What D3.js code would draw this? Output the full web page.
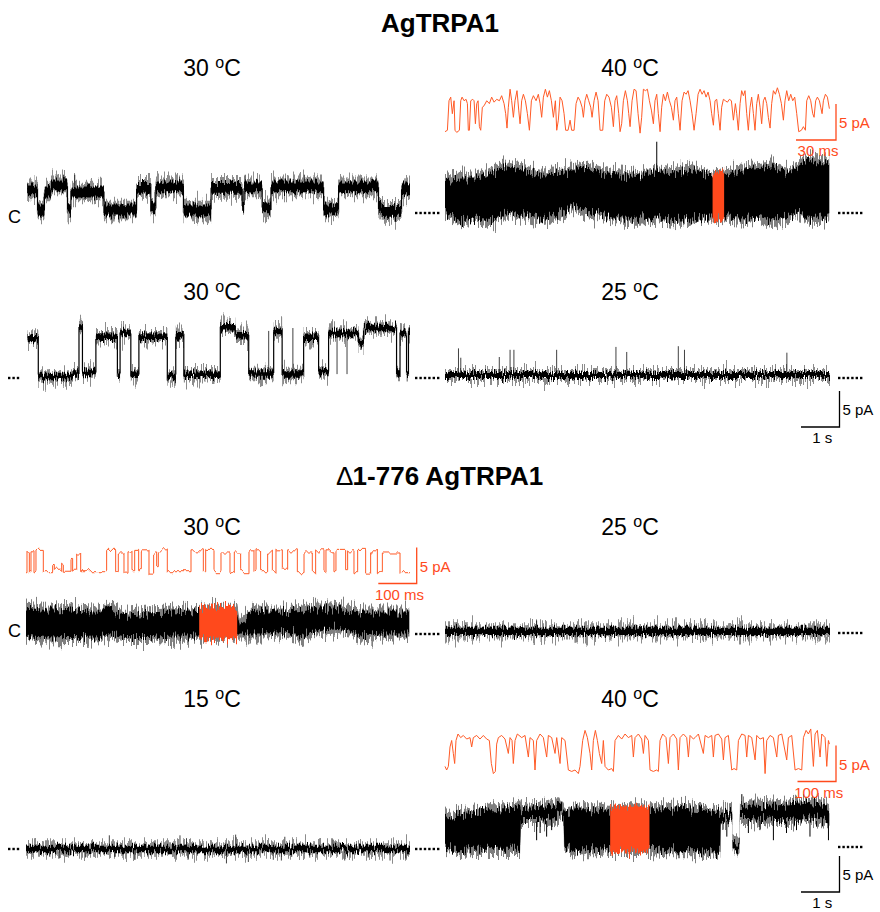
<!DOCTYPE html>
<html><head><meta charset="utf-8">
<script src="https://cdn.jsdelivr.net/npm/d3@7"></script>
<style>
body{margin:0;background:#fff}
text{font-family:"Liberation Sans",Arial,Helvetica,sans-serif}
</style>
</head><body>
<svg id="fig" width="880" height="912"></svg>
<script>
// ---------- Data (time in s for full records, ms for expanded insets; current in pA) ----------

// AgTRPA1, 30 °C, first record: dwell list [start s, level pA]
const agt30aDwells = [[0.03,2.8],[0.30,0],[0.48,2.5],[0.65,3.5],[1.08,0],[1.17,2.5],[2.03,0],[2.88,3.0],[3.25,0.3],[3.38,3.2],[4.10,0],[4.82,3.0],[5.63,0.5],[5.68,3.2],[6.15,0.3],[6.38,3.2],[7.75,0],[8.14,3.2],[9.18,0.5],[9.26,-0.2],[9.78,2.8]];
const agt30aEnd = 10.0;
const agt30aSpikes = [[1.0,4.6],[1.27,4.9],[5.71,4.9],[7.25,4.9],[9.13,4.4],[9.87,4.4],[0.4,-0.8],[2.29,-1.6],[4.81,-1.6],[9.22,-1.3]];
const agt30aNoise = [0.75, 1.3];

// AgTRPA1, 40 °C: dense flickering record as min/max envelope
const agt40Time  = [0,0.39,0.82,1.26,1.60,2.03,2.47,2.90,3.33,3.51,3.77,4.20,4.63,5.06,5.50,5.93,6.36,6.80,7.10,7.66,8.10,8.53,8.96,9.22,9.39,9.65,9.98];
const agt40Upper = [4.8,5.0,5.0,6.0,6.7,6.2,5.5,5.7,6.0,6.7,6.4,5.7,5.5,5.3,6.0,5.7,6.2,5.5,5.3,6.2,6.4,6.7,5.7,6.9,7.6,7.1,7.1];
const agt40Lower = [-0.3,-1.2,-1.0,-1.2,0,-0.5,-1.0,-0.5,0.9,0.2,0,-0.5,-1.0,-1.0,-0.7,-1.2,-1.0,-0.7,-0.7,-1.0,-0.7,-1.2,-0.5,0.2,-1.0,-1.0,-0.5];
const agt40Spikes = [[5.5,9.9]];
const agt40Window = [6.95, 7.25];
// expanded stretch of the 40 °C record: [ms, pA]
const agt40Inset = [[0,0],[1.8,0.2],[3,4.3],[4.3,4.8],[5.5,2.5],[6.8,4.3],[7.5,0.2],[8.8,-0.1],[10.8,0.2],[11.8,4.3],[12.8,4.8],[14.3,4.3],[15.8,4.5],[16.8,3.9],[17.5,0.2],[18.3,0.2],[19.3,4.3],[20.8,4.5],[21.8,4.3],[22.8,1.1],[23.8,3.9],[24.8,4.3],[25.8,0.7],[26.8,0.2],[28,3.4],[29.3,3.6],[31.3,4.3],[33.3,3.9],[35,4.8],[36.8,4.1],[38.8,4.5],[40.8,4.3],[42.5,5.0],[44.3,3.9],[45.5,2.5],[46.5,0.5],[47.5,3.4],[48.8,5.9],[50,4.3],[51.3,2.0],[52.5,4.3],[54,5.7],[55.3,3.0],[56.3,1.1],[57.5,4.3],[58.8,5.2],[60.3,4.3],[61.8,2.5],[63.3,0.2],[64.8,4.3],[66.3,5.0],[68.3,4.3],[70,5.2],[71.3,3.9],[72.5,2.0],[73.8,4.8],[75.3,5.9],[76.8,4.8],[78.3,5.7],[79.8,4.3],[81.3,2.0],[82.8,4.3],[83.8,0.2],[85,1.6],[86.3,4.8],[87.8,4.3],[89.3,2.5],[90.5,0.2],[92.3,0.2],[93.8,1.6],[95,0.2],[96.8,0.2],[98.3,3.9],[99.8,4.8],[101.3,4.3],[102.8,3.4],[103.8,2.0],[105,4.3],[106.3,5.2],[107.8,4.3],[109.3,3.4],[110.3,2.0],[111.8,4.3],[113.3,5.5],[114.8,4.3],[116.3,0.2],[118.3,0.2],[119.8,4.3],[121.3,5.2],[123,4.8],[124.8,3.4],[126.3,0.7],[127.5,4.3],[128.8,5.0],[130.3,2.5],[131.3,0],[132.5,1.1],[133.8,4.3],[135.3,5.7],[136.8,4.3],[137.8,2.5],[138.8,0.7],[140.3,4.3],[141.8,5.9],[143.3,5.7],[144.8,2.5],[146.3,-0.2],[147.5,2.0],[148.8,5.9],[150.3,5.7],[151.8,5.9],[153.3,4.3],[154.8,3.0],[156.3,1.1],[157.5,4.3],[158.8,5.2],[160,2.5],[161.3,0],[162.5,3.4],[163.8,5.2],[165.3,4.3],[166.8,5.5],[168.3,4.3],[169.8,3.4],[171.3,1.6],[172.5,4.3],[173.8,4.8],[175,2.5],[176.3,0.2],[177.8,4.3],[179.3,5.5],[180.8,5.2],[182.3,5.7],[183.8,4.3],[185.3,2.5],[186.8,0.2],[188.3,2.5],[189.8,5.2],[191.3,5.9],[192.8,5.2],[194.3,5.7],[195.8,4.8],[197.3,5.5],[198.8,4.3],[200,2.5],[201.3,0.9],[202.5,4.3],[203.8,4.5],[205,2.5],[206.3,0.2],[207.5,3.4],[208.8,4.5],[210.3,4.3],[211.8,4.1],[213.3,4.5],[214.8,4.3],[216.3,1.6],[217.8,3.9],[218.8,2.5],[220,0.2],[221.3,3.9],[222.5,5.7],[223.8,5.0],[225,5.7],[226.3,2.5],[227.5,0.2],[228.8,3.4],[230,4.8],[231.3,2.5],[232.5,0.2],[233.8,3.9],[235,5.2],[236.3,3.4],[237.5,1.1],[238.8,4.3],[240,4.8],[241.3,3.9],[242.5,2.0],[243.8,0.5],[245,3.9],[246.3,5.7],[247.8,5.2],[249.3,6.1],[250.8,5.2],[252.3,3.9],[253.8,1.6],[255,4.3],[256.3,5.7],[257.8,4.3],[259.3,5.2],[260.8,4.3],[262.3,4.8],[263.8,2.5],[265.3,0],[267.3,0.2],[268.8,0.7],[270.3,0.2],[271.3,4.3],[272.8,5.0],[274.3,4.3],[275.8,2.5],[276.8,2.0],[278,4.3],[279.3,4.8],[280.8,4.3],[281.8,3.4],[282.8,2.5],[283.8,4.3],[285.3,5.2],[286.8,4.8],[288.3,3.2]];
const agt40InsetSpan = 288.3;

// AgTRPA1, 30 °C, second record
const agt30bDwells = [[0.04,5.4],[0.32,0],[1.21,0.5],[1.38,7.0],[1.47,0.7],[1.82,5.6],[2.38,0.3],[2.45,6.1],[2.73,0.3],[2.94,5.6],[3.68,0],[3.90,5.8],[4.11,0.3],[5.06,6.9],[5.45,5.8],[5.80,0.5],[6.45,6.4],[6.67,0.5],[7.23,5.6],[7.62,0.7],[7.88,6.1],[8.66,4.7],[8.79,6.8],[9.65,0.5],[9.74,6.1],[9.91,0.3],[9.96,6.3]];
const agt30bEnd = 10.0;
const agt30bSpikes = [[6.32,6.4],[6.95,6.8],[8.10,0.4],[8.36,0.4]];
const agt30bNoise = [0.45, 0.8];

// AgTRPA1, 25 °C
const agt25Dwells = [[0,0]];
const agt25End = 10.0;
const agt25Spikes = [[0.35,3.7],[0.41,2.4],[1.41,2.5],[1.69,3.5],[1.79,3.5],[2.90,3.5],[4.44,3.9],[4.72,3.2],[6.06,4.0],[6.22,3.5],[8.88,3.1]];
const agt25Noise = [0.4, 0.7];

// Δ1-776 AgTRPA1, 30 °C: envelope of the dense record
const d30Time  = [0,0.45,1.06,1.49,1.92,2.18,2.53,3.23,3.83,4.45,5.0,5.50,5.57,5.92,6.26,6.70,7.13,7.57,8.00,8.43,8.70,9.30,9.98];
const d30Upper = [3.6,3.3,3.4,3.1,3.0,3.6,2.4,2.8,2.9,3.1,3.3,3.3,1.2,3.1,2.9,2.9,3.1,3.6,3.6,3.1,2.9,2.9,2.9];
const d30Lower = [-0.7,-1.0,-0.9,-0.9,-0.8,-0.5,-0.9,-0.9,-0.7,-0.7,-0.7,-0.7,-0.4,-0.4,-0.4,-0.2,-0.7,0.0,0.3,0.0,-0.7,-0.4,-0.4];
const d30Window = [4.51, 5.50];
// expanded stretch of the Δ1-776 30 °C record: dwell list [start ms, pA]
const d30Inset = [[0,0],[2.6,2.9],[8.7,0],[13,2.9],[20.8,0],[26,3.1],[45.1,0],[69.4,1.0],[73.8,0.2],[92.9,1.2],[97.2,0.2],[117.2,1.7],[121.5,0.2],[132,2.6],[142.4,0],[210,3.1],[233.5,0],[240.4,2.6],[255.2,-0.2],[265.6,2.9],[276,0],[283,3.1],[293.4,0],[300.3,2.9],[320.3,-0.2],[332.4,2.6],[340.3,0.7],[344.6,2.9],[368,0],[429.7,2.9],[461.8,0],[467.9,3.1],[489.6,0],[507.8,2.6],[531.2,0],[542.5,2.6],[559,0],[580.7,2.9],[593.7,0],[599,2.9],[611,0],[629.3,2.6],[641.5,0],[651,2.9],[667.5,0.2],[681.4,2.9],[706.6,0],[724,2.6],[745.6,0],[754.3,2.9],[776,0.2],[781.2,2.9],[802,0],[807.2,3.1],[832.4,0],[837.6,2.9],[854.1,0],[863.7,3.1],[884.5,-0.2],[897.5,2.9],[915,0],[928,2.6],[974,0]];
const d30InsetSpan = 1000;

// Δ1-776 AgTRPA1, 25 °C
const d25Dwells = [[0,0.1]];
const d25End = 10.0;
const d25Spikes = [[2.38,1.6],[3.38,-1.5]];
const d25Noise = [0.5, 0.85];

// Δ1-776 AgTRPA1, 15 °C
const d15Dwells = [[0,0]];
const d15End = 10.0;
const d15Spikes = [[0.62,-1.1],[0.87,-1.3],[1.56,-1.1],[2.31,-1.1],[2.84,-1.5],[3.36,-1.1],[4.22,-1.5],[5.22,-2.0],[5.79,-1.8],[6.44,-1.5],[6.65,-1.6],[6.92,-1.1],[7.39,-1.2],[8.30,-1.6],[8.91,-1.2],[9.48,-1.6],[9.89,-1.3],[2.17,1.9],[4.01,1.9],[4.18,1.5],[5.46,2.0],[6.74,1.7],[8.0,1.3]];
const d15Noise = [0.45, 0.8];

// Δ1-776 AgTRPA1, 40 °C: envelope of the record
const d40Time  = [0,0.39,0.74,1.17,1.60,1.95,1.97,2.47,2.86,2.94,3.08,3.10,3.51,3.94,4.24,4.72,5.32,5.76,6.19,6.62,7.06,7.15,7.16,7.46,7.47,7.65,7.66,7.92,8.53,8.96,9.39,9.74,9.98];
const d40Upper = [4.2,4.7,4.9,5.4,5.4,5.9,5.4,5.6,6.1,6.6,5.2,4.9,5.4,5.4,5.2,5.4,5.4,5.4,5.6,5.4,4.9,4.9,4.9,5.2,0.9,0.7,5.4,6.1,5.9,6.1,6.3,6.1,5.4];
const d40Lower = [-0.5,-0.7,-0.5,-0.5,-0.5,-0.5,3.5,3.5,3.8,4.2,3.8,-0.2,-0.7,-0.7,-0.5,-0.5,-0.5,-0.7,-0.7,-0.7,-0.9,-0.9,3.3,3.8,-0.7,-0.7,3.8,3.8,3.5,3.5,3.8,3.5,3.3];
const d40Spikes = [[2.38,0.9],[2.47,1.9],[2.64,1.4],[2.77,2.3],[7.32,1.4],[7.71,7.3],[7.88,1.9],[8.18,2.3],[8.53,0.9],[8.87,1.9],[9.13,2.3],[9.48,1.4],[9.65,2.8],[9.96,0.9]];
const d40Window = [4.29, 5.31];
// expanded stretch of the Δ1-776 40 °C record: [ms, pA]
const d40Inset = [[0,0.5],[4.3,0],[8.7,0.5],[13,3.2],[17.3,4.1],[21.6,2.3],[25.1,0.9],[28.6,4.1],[33.8,5.0],[40.7,4.5],[47.6,4.8],[56.3,4.3],[64.9,4.5],[69.3,3.2],[73.6,4.5],[82.3,4.8],[90.9,4.3],[99.6,4.8],[108.2,4.3],[115.2,4.1],[120.4,0.9],[125.6,-0.5],[130.8,-0.2],[134.2,3.6],[138.6,4.5],[147.2,4.8],[155.9,4.3],[164.5,2.3],[168.9,4.5],[174.1,4.1],[177.5,0.9],[181.9,4.1],[187.9,5.0],[199.2,4.5],[207.8,4.8],[216.5,1.8],[220.8,4.5],[229.5,4.1],[233.8,0],[238.1,4.1],[246.8,5.0],[255.5,4.5],[264.1,1.8],[268.5,4.8],[277.1,4.5],[285.8,2.3],[290.1,4.5],[298.8,0.9],[303.1,4.5],[311.8,4.1],[320.4,0],[329.1,-0.2],[337.7,0],[346.4,-0.5],[350.7,0.5],[357.6,4.1],[363.7,5.5],[369.8,4.5],[376.7,2.3],[381,0],[385.4,4.1],[390.6,5.5],[395.8,4.1],[401,2.3],[407,0.9],[411.3,4.1],[415.7,0.5],[424.3,0],[433,0.2],[437.3,-0.2],[441.7,4.1],[450.3,4.8],[459,4.3],[467.6,5.0],[476.3,4.5],[485,4.8],[489.3,1.8],[493.6,4.5],[502.3,5.0],[510.9,4.3],[515.3,2.3],[519.6,4.8],[528.3,4.1],[532.6,0],[541.2,-0.2],[549.9,0],[554.2,-0.2],[558.6,4.1],[565.5,5.0],[574.1,4.5],[580.2,0.9],[584.5,4.5],[593.2,5.0],[601.9,4.3],[606.2,0],[610.5,4.5],[619.2,5.0],[627.8,4.5],[632.2,1.8],[636.5,4.8],[645.2,4.3],[649.5,4.5],[658.2,5.0],[671.1,2.3],[675.5,4.8],[684.1,4.5],[692.8,4.8],[697.1,1.8],[701.5,4.8],[710.1,5.0],[718.8,4.3],[723.1,1.4],[727.4,4.5],[736.1,4.8],[744.8,0],[750.8,0.2],[757.7,0],[762.1,4.1],[770.7,5.0],[779.4,4.8],[783.7,1.8],[788.1,4.8],[796.7,4.5],[805.4,1.4],[809.7,4.8],[818.4,4.3],[827,4.5],[831.4,-0.5],[835.7,4.1],[844.3,4.8],[853,4.5],[861.7,1.8],[866,4.8],[874.7,5.0],[887.6,1.4],[892,4.5],[900.6,4.8],[909.3,0],[918,0.2],[926.6,0],[931,4.5],[937.9,5.5],[943.9,5.0],[950,5.7],[956.9,0.5],[961.3,5.0],[967.3,5.5],[974.2,1.8],[978.6,5.0],[987.2,4.5],[991.6,0.5],[995.9,4.1],[998.5,3.6]];
const d40InsetSpan = 1000;

// Labels
const titles = ["AgTRPA1", "1-776 AgTRPA1"];
const temps = [["30","40"],["30","25"],["30","25"],["15","40"]];
const recordSpan = 10;      // s shown in each full record
const barCurrent = 5;       // pA
const barTime = 1;          // s
const insetBars = [30, 100, 100]; // ms

// ---------- Drawing ----------
const svg = d3.select("#fig");
const BLACK = "#000";
const ORANGE = "#ff4a1c";
const ORANGE_LINE = "#ff5a26";
const PX_PER_5PA = 36;

// Recording-noise texture: vertical-only jitter of trace edges
const defs = svg.append("defs");
function jitterFilter(id, freq, scale, seed) {
  const f = defs.append("filter").attr("id", id).attr("filterUnits", "userSpaceOnUse")
    .attr("x", 0).attr("y", 0).attr("width", 880).attr("height", 912);
  f.append("feTurbulence").attr("type", "fractalNoise").attr("baseFrequency", freq)
    .attr("numOctaves", 2).attr("seed", seed).attr("result", "n");
  f.append("feColorMatrix").attr("in", "n").attr("type", "matrix")
    .attr("values", "0 0 0 0 0.5  0 1 0 0 0  0 0 0 0 0  0 0 0 0 1").attr("result", "m");
  f.append("feDisplacementMap").attr("in", "SourceGraphic").attr("in2", "m")
    .attr("scale", scale).attr("xChannelSelector", "R").attr("yChannelSelector", "G");
}
jitterFilter("jitA", "0.9 0.03", 22, 3);
jitterFilter("jitB", "0.9 0.03", 30, 11);
jitterFilter("jitCore", "0.9 0.03", 13, 7);
jitterFilter("jitInset", "0.2 0.05", 9, 5);

const xLeft  = d3.scaleLinear().domain([0, recordSpan]).range([26, 410]);
const xRight = d3.scaleLinear().domain([0, recordSpan]).range([445, 830]);
const yAt = base => d3.scaleLinear().domain([0, barCurrent]).range([base, base - PX_PER_5PA]);

function levelAt(dwells, t) {
  let v = dwells[0][1];
  for (const d of dwells) { if (d[0] <= t) v = d[1]; else break; }
  return v;
}

function stepTrace(dwells, end, spikes, noise, x, y) {
  const pts = dwells.concat([[end, dwells[dwells.length - 1][1]]]);
  const band = w => d3.area().curve(d3.curveStepAfter)
    .x(d => x(d[0])).y0(d => y(d[1] - w)).y1(d => y(d[1] + w));
  svg.append("path").datum(pts).attr("d", band(noise[1])).attr("fill", BLACK)
    .attr("fill-opacity", 0.45).attr("filter", "url(#jitB)");
  const g = svg.append("g").attr("filter", "url(#jitCore)");
  g.append("path").datum(pts).attr("d", band(noise[0])).attr("fill", BLACK);
  g.append("path").datum(pts)
    .attr("d", d3.line().curve(d3.curveStepAfter).x(d => x(d[0])).y(d => y(d[1])))
    .attr("fill", "none").attr("stroke", BLACK).attr("stroke-width", 1.2);
  svg.append("g").selectAll("line").data(spikes).join("line")
    .attr("x1", d => x(d[0])).attr("x2", d => x(d[0]))
    .attr("y1", d => y(levelAt(dwells, d[0]))).attr("y2", d => y(d[1]))
    .attr("stroke", BLACK).attr("stroke-width", 1).attr("stroke-opacity", 0.75);
}

function envelopeTrace(time, upper, lower, spikes, win, x, y, id) {
  const rows = time.map((t, i) => ({t, up: upper[i], lo: lower[i]}));
  const env = (a, b) => d3.area().x(d => x(d.t)).y0(d => y(d.lo - a)).y1(d => y(d.up + b));
  svg.append("path").datum(rows).attr("d", env(0.5, 0.5)).attr("fill", BLACK)
    .attr("fill-opacity", 0.5).attr("filter", "url(#jitB)");
  svg.append("path").datum(rows).attr("d", env(-0.2, -0.2)).attr("fill", BLACK)
    .attr("filter", "url(#jitA)");
  const up = d3.scaleLinear().domain(time).range(upper);
  const lo = d3.scaleLinear().domain(time).range(lower);
  svg.append("g").selectAll("line").data(spikes).join("line")
    .attr("x1", d => x(d[0])).attr("x2", d => x(d[0]))
    .attr("y1", d => y(d[1] > up(d[0]) ? up(d[0]) : lo(d[0]))).attr("y2", d => y(d[1]))
    .attr("stroke", BLACK).attr("stroke-width", 1);
  if (win) {
    defs.append("clipPath").attr("id", id).append("rect")
      .attr("x", x(win[0])).attr("width", x(win[1]) - x(win[0]))
      .attr("y", 0).attr("height", 912);
    svg.append("g").attr("clip-path", `url(#${id})`)
      .append("path").datum(rows).attr("d", env(0.3, 0.3)).attr("fill", ORANGE)
      .attr("filter", "url(#jitA)");
  }
}

function insetLine(pairs, x, y, step) {
  const line = d3.line().x(d => x(d[0])).y(d => y(d[1]));
  if (step) line.curve(d3.curveStepAfter);
  const p = svg.append("path").datum(pairs).attr("d", line)
    .attr("fill", "none").attr("stroke", ORANGE_LINE).attr("stroke-width", 1)
    .attr("stroke-linejoin", "round");
  if (step) p.attr("filter", "url(#jitInset)");
}

function scaleBar(x, y, cx, cy, tLen, color, tLabel, fs) {
  // vertical bar (current) and horizontal bar (time) meeting at the lower right corner
  const h = y(0) - y(barCurrent);
  const w = x(tLen) - x(0);
  const g = svg.append("g");
  g.append("path").attr("d", `M${cx},${cy - h}V${cy}H${cx - w}`)
    .attr("fill", "none").attr("stroke", color).attr("stroke-width", 1.3);
  g.append("text").attr("x", cx + 3).attr("y", cy - h / 2 + 6).attr("font-size", fs)
    .attr("fill", color).text(`${barCurrent} pA`);
  g.append("text").attr("x", cx - w / 2 + 2).attr("y", cy + 16).attr("text-anchor", "middle")
    .attr("font-size", fs).attr("fill", color).text(tLabel);
}

function dots(x0, y, n) {
  svg.append("g").selectAll("rect").data(d3.range(n)).join("rect")
    .attr("x", i => x0 + i * 4.4).attr("y", y - 1.2).attr("width", 2.4).attr("height", 2.4)
    .attr("fill", BLACK);
}

function tempLabel(cx, y, deg) {
  const t = svg.append("text").attr("x", cx).attr("y", y).attr("text-anchor", "middle")
    .attr("font-size", 23).attr("fill", BLACK);
  t.append("tspan").text(deg + " ");
  t.append("tspan").attr("dy", -8).attr("font-size", 16).text("o");
  t.append("tspan").attr("dy", 8).text("C");
}

// Titles
svg.append("text").attr("x", 440).attr("y", 32).attr("text-anchor", "middle")
  .attr("font-size", 26).attr("font-weight", "bold").text(titles[0]);
const t2 = svg.append("text").attr("x", 440).attr("y", 485).attr("text-anchor", "middle")
  .attr("font-size", 26).attr("font-weight", "bold");
t2.append("tspan").attr("font-weight", "normal").text("\u2206");
t2.append("tspan").text(titles[1]);

// Temperature headings
const rowBaselines = [76, 300, 535, 707];
temps.forEach((pair, r) => {
  tempLabel(212, rowBaselines[r], pair[0]);
  tempLabel(630, rowBaselines[r], pair[1]);
});

// Row 1: AgTRPA1 30 °C / 40 °C
stepTrace(agt30aDwells, agt30aEnd, agt30aSpikes, agt30aNoise, xLeft, yAt(210));
envelopeTrace(agt40Time, agt40Upper, agt40Lower, agt40Spikes, agt40Window, xRight, yAt(213), "w1");
const xIns1 = d3.scaleLinear().domain([0, agt40InsetSpan]).range([445, 445 + agt40InsetSpan * 40 / 30]);
const yIns1 = yAt(131.7);
insetLine(agt40Inset, xIns1, yIns1, false);
scaleBar(xIns1, yIns1, 836, 140, insetBars[0], ORANGE, `${insetBars[0]} ms`, 15);

// Row 2: AgTRPA1 30 °C / 25 °C
stepTrace(agt30bDwells, agt30bEnd, agt30bSpikes, agt30bNoise, xLeft, yAt(377));
stepTrace(agt25Dwells, agt25End, agt25Spikes, agt25Noise, xRight, yAt(375));
scaleBar(xRight, yAt(375), 839.5, 427, barTime, BLACK, `${barTime} s`, 15);

// Row 3: Δ1-776 30 °C / 25 °C
envelopeTrace(d30Time, d30Upper, d30Lower, [], d30Window, xLeft, yAt(632), "w2");
const xIns3 = d3.scaleLinear().domain([0, d30InsetSpan]).range([26, 410]);
const yIns3 = yAt(571.7);
insetLine(d30Inset.concat([[d30InsetSpan, 0]]), xIns3, yIns3, true);
scaleBar(xIns3, yIns3, 416.7, 583.5, insetBars[1], ORANGE, `${insetBars[1]} ms`, 15);
stepTrace(d25Dwells, d25End, d25Spikes, d25Noise, xRight, yAt(632));

// Row 4: Δ1-776 15 °C / 40 °C
stepTrace(d15Dwells, d15End, d15Spikes, d15Noise, xLeft, yAt(849));
envelopeTrace(d40Time, d40Upper, d40Lower, d40Spikes, d40Window, xRight, yAt(846.7), "w3");
const xIns4 = d3.scaleLinear().domain([0, d40InsetSpan]).range([445, 830]);
const yIns4 = yAt(770);
insetLine(d40Inset, xIns4, yIns4, false);
scaleBar(xIns4, yIns4, 836, 781.5, insetBars[2], ORANGE, `${insetBars[2]} ms`, 15);
scaleBar(xRight, yAt(846.7), 839.5, 892, barTime, BLACK, `${barTime} s`, 15);

// Closed-level markers and continuation dots
svg.append("text").attr("x", 8).attr("y", 223).attr("font-size", 18).text("C");
svg.append("text").attr("x", 8).attr("y", 637).attr("font-size", 18).text("C");
[[415, 213], [838, 213], [415, 378], [838, 378], [415, 634], [838, 633], [415, 849], [838, 847]]
  .forEach(([x, y]) => dots(x, y, 6));
[[8, 378], [8, 849]].forEach(([x, y]) => dots(x, y, 3));
</script>
</body></html>
